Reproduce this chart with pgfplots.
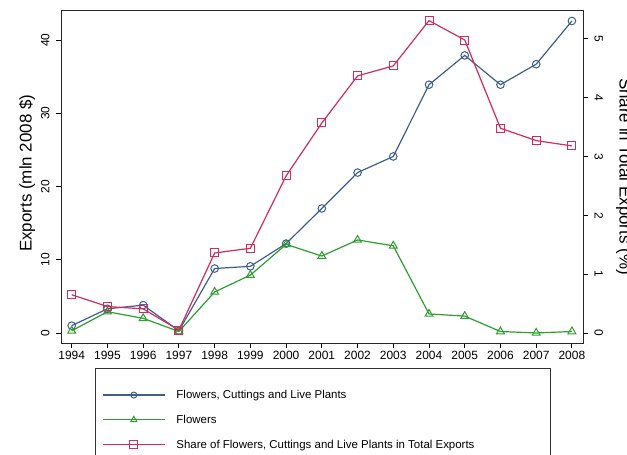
\documentclass[border=0pt]{standalone}
\usepackage{pgfplots}
\pgfplotsset{compat=1.18}
\usepackage{fontspec}
\setmainfont{Liberation Sans}
\definecolor{cblue}{HTML}{3D5F8E}
\definecolor{cgreen}{HTML}{2E9E2E}
\definecolor{cred}{HTML}{D42B5B}
\begin{document}
\begin{tikzpicture}
\pgfplotsset{
  common/.style={
    at={(61bp,112bp)}, anchor=south west, scale only axis,
    width=522bp, height=333bp,
    xmin=1993.7, xmax=2008.31,
    /pgf/number format/assume math mode=true,
    tick align=outside, major tick length=5bp,
    tick style={black, line width=0.8bp},
    axis line style={line width=0.9bp, black!85},
    ticklabel style={font=\fontsize{12}{14}\selectfont},
  }
}
\begin{axis}[common,
  ymin=-1.37, ymax=44.1,
  xtick={1994,...,2008}, xtick pos=bottom,
  xticklabel style={/pgf/number format/1000 sep={}},
  ytick={0,10,20,30,40}, ytick pos=left,
  yticklabel style={rotate=90, anchor=south},
  yticklabel shift=3bp,
  every axis y label/.style={at={(axis description cs:-0.065,0.51)}, rotate=90, anchor=center, font=\fontsize{17}{20}\selectfont},
  ylabel={Exports (mln 2008 \$)},
]
\addplot[cblue, line width=1.2bp, mark=o, mark size=3.8bp, mark options={line width=1bp}] coordinates {
(1994,1.0) (1995,3.3) (1996,3.8) (1997,0.3) (1998,8.8) (1999,9.1) (2000,12.2) (2001,17.0)
(2002,21.9) (2003,24.1) (2004,33.9) (2005,37.9) (2006,33.9) (2007,36.7) (2008,42.6)};
\addplot[cgreen, line width=1.2bp, mark=triangle, mark size=4.5bp, mark options={line width=1bp}] coordinates {
(1994,0.3) (1995,2.9) (1996,2.0) (1997,0.2) (1998,5.6) (1999,7.9) (2000,12.1) (2001,10.5)
(2002,12.7) (2003,11.9) (2004,2.6) (2005,2.3) (2006,0.2) (2007,0.0) (2008,0.2)};
\end{axis}
\begin{axis}[common,
  ymin=-0.17, ymax=5.49,
  axis x line=none, axis y line*=right,
  ytick={0,1,2,3,4,5},
  yticklabel style={rotate=-90, anchor=south},
  yticklabel shift=3bp,
  every axis y label/.style={at={(axis description cs:1.0785,0.5)}, rotate=-90, anchor=center, font=\fontsize{17}{20}\selectfont},
  ylabel={Share in Total Exports (\%)},
  legend style={at={(axis description cs:0.0651,-0.075)}, anchor=north west,
    draw=black!80, font=\fontsize{11.5}{13}\selectfont,
    inner xsep=7bp, inner ysep=20bp, row sep=11bp, column sep=9bp},
  legend cell align=left,
  legend image code/.code={\draw[#1, line width=1.3bp, mark repeat=2, mark phase=2] plot coordinates {(0bp,0bp) (31bp,0bp) (62bp,0bp)};},
]
\addlegendimage{cblue, mark=o, mark size=3bp, mark options={line width=1bp}}
\addlegendentry{\makebox[365bp][l]{Flowers, Cuttings and Live Plants}}
\addlegendimage{cgreen, mark=triangle, mark size=3.5bp, mark options={line width=1bp}}
\addlegendentry{Flowers}
\addplot[cred, line width=1.2bp, mark=square, mark size=4bp, mark options={line width=1bp}] coordinates {
(1994,0.65) (1995,0.45) (1996,0.41) (1997,0.05) (1998,1.36) (1999,1.44) (2000,2.67) (2001,3.57)
(2002,4.37) (2003,4.54) (2004,5.31) (2005,4.98) (2006,3.48) (2007,3.27) (2008,3.18)};
\addlegendentry{Share of Flowers, Cuttings and Live Plants in Total Exports}
\end{axis}
\pgfresetboundingbox
\useasboundingbox (0,0) rectangle (627bp,455bp);
\end{tikzpicture}
\end{document}
